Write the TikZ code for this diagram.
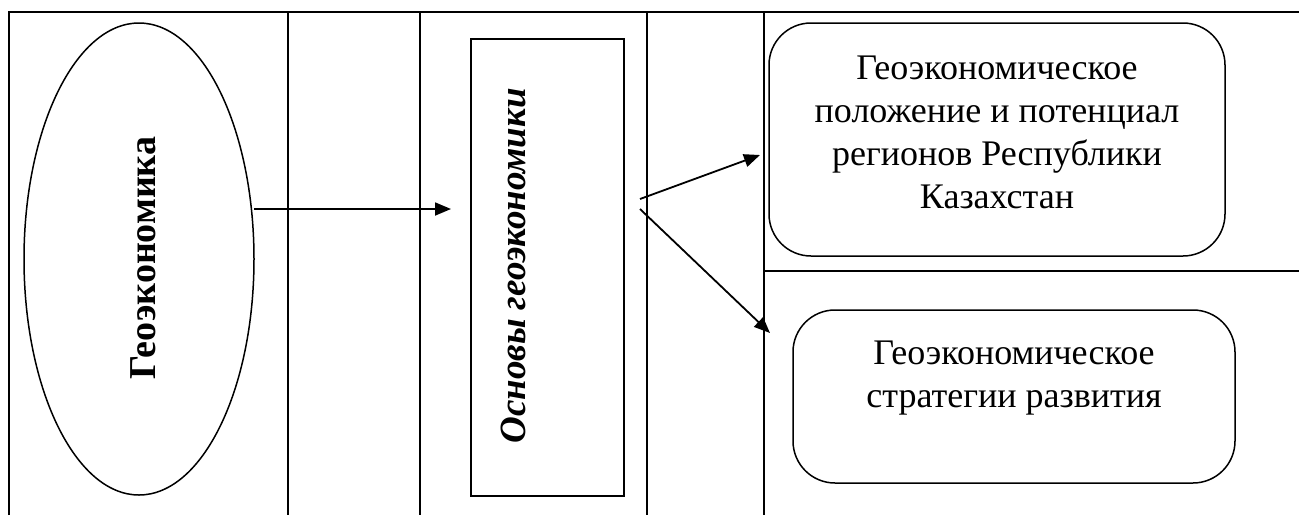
\documentclass[tikz,border=0pt]{standalone}
\usepackage{fontspec}
\setmainfont{Liberation Serif}
\usetikzlibrary{arrows.meta,shapes.geometric}
\begin{document}
\begin{tikzpicture}[x=1pt,y=-1pt,
  frame/.style={line width=2pt},
  conn/.style={line width=1.8pt,-{Triangle[length=16pt,width=13pt]}},
  rbox/.style={draw,line width=1.5pt,rounded corners=42pt},
  bigtext/.style={font=\fontsize{36}{43}\selectfont,align=center,anchor=base}]
\useasboundingbox (0,0) rectangle (1299,515);
% frame
\draw[frame] (9,515) -- (9,12) -- (1299,12);
\draw[frame] (288,12) -- (288,515);
\draw[frame] (420,12) -- (420,515);
\draw[frame] (647,12) -- (647,515);
\draw[frame] (764,12) -- (764,515);
\draw[frame] (764,271) -- (1299,271);
% ellipse
\node[draw,ellipse,line width=1.5pt,minimum width=230pt,minimum height=472pt,inner sep=0pt] (geo) at (139,259) {};
\node[rotate=90,font=\fontsize{38}{40}\selectfont\bfseries] (geot) at (143,258) {Геоэкономика};
% rectangle
\node[draw,line width=1.5pt,minimum width=153pt,minimum height=457pt,inner sep=0pt] (osn) at (547.5,267.5) {};
\node[rotate=90,font=\fontsize{37}{40}\selectfont\bfseries\itshape] (osnt) at (513,266) {Основы геоэкономики};
% right boxes
\node[rbox,minimum width=456pt,minimum height=233pt] (b1) at (997,139.5) {};
\node[bigtext] (b1t) at (997,208) {Геоэкономическое\\положение и потенциал\\регионов Республики\\Казахстан};
\node[rbox,minimum width=442pt,minimum height=173pt] (b2) at (1014,396.5) {};
\node[bigtext] (b2t) at (1014,407) {Геоэкономическое\\стратегии развития};
% connectors
\coordinate (s1) at (254,209);
\coordinate (e1) at (451,209);
\draw[conn] (s1) -- (e1);
\coordinate (s2) at (640,199);
\coordinate (e2) at (760,155);
\coordinate (s3) at (640,209);
\coordinate (e3) at (770,333);
\draw[conn] (s2) -- (e2);
\draw[conn] (s3) -- (e3);
\end{tikzpicture}
\end{document}
